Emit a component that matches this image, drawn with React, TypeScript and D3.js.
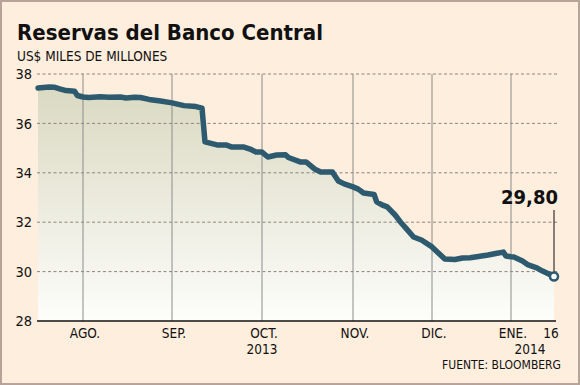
import * as d3 from "d3";

const dates = [
  "2013-07-16", "2013-07-18", "2013-07-20", "2013-07-22", "2013-07-24", "2013-07-26",
  "2013-07-29", "2013-07-30", "2013-08-01", "2013-08-03", "2013-08-07", "2013-08-10",
  "2013-08-14", "2013-08-16", "2013-08-19", "2013-08-21", "2013-08-24", "2013-08-28",
  "2013-09-01", "2013-09-05", "2013-09-09", "2013-09-11", "2013-09-12", "2013-09-16",
  "2013-09-19", "2013-09-21", "2013-09-25", "2013-09-27", "2013-09-29", "2013-10-01",
  "2013-10-03", "2013-10-06", "2013-10-09", "2013-10-10", "2013-10-14", "2013-10-16",
  "2013-10-19", "2013-10-21", "2013-10-25", "2013-10-27", "2013-10-29", "2013-11-01",
  "2013-11-03", "2013-11-05", "2013-11-09", "2013-11-10", "2013-11-12", "2013-11-14",
  "2013-11-17", "2013-11-19", "2013-11-21", "2013-11-24", "2013-11-27", "2013-12-01",
  "2013-12-06", "2013-12-10", "2013-12-13", "2013-12-16", "2013-12-23", "2013-12-26",
  "2013-12-29", "2013-12-30", "2014-01-01", "2014-01-02", "2014-01-05", "2014-01-07",
  "2014-01-10", "2014-01-12", "2014-01-16",
];

const reserves = [
  37.43, 37.45, 37.47, 37.46, 37.39, 37.33,
  37.3, 37.13, 37.07, 37.05, 37.08, 37.06,
  37.07, 37.03, 37.06, 37.05, 36.97, 36.91,
  36.83, 36.72, 36.68, 36.62, 35.25, 35.13,
  35.13, 35.04, 35.04, 34.96, 34.84, 34.84,
  34.64, 34.72, 34.73, 34.62, 34.44, 34.44,
  34.15, 34.03, 34.03, 33.67, 33.55, 33.43,
  33.34, 33.18, 33.12, 32.82, 32.7, 32.62,
  32.29, 32.01, 31.77, 31.4, 31.28, 31.0,
  30.51, 30.49, 30.55, 30.56, 30.67, 30.73,
  30.79, 30.63, 30.6, 30.59, 30.43, 30.27,
  30.15, 30.02, 29.8,
];

const monthStarts = ["2013-08-01", "2013-09-01", "2013-10-01", "2013-11-01", "2013-12-01", "2014-01-01"];
const monthLabels = ["AGO.", "SEP.", "OCT.", "NOV.", "DIC.", "ENE."];
const yTicks = [28, 30, 32, 34, 36, 38];

const parse = d3.timeParse("%Y-%m-%d");
const font = "'DejaVu Sans Condensed', 'DejaVu Sans', sans-serif";

export default function App() {
  const width = 580;
  const height = 385;

  const data = dates.map((d, i) => ({ date: parse(d) as Date, value: reserves[i] }));
  const first = data[0].date;
  const last = data[data.length - 1].date;
  const months = monthStarts.map((d) => parse(d) as Date);

  // months are not evenly spaced in the original, so a polylinear time scale
  const x = d3
    .scaleTime()
    .domain([first, ...months, last])
    .range([38, 83, 172, 262, 353, 432, 511, 554]);

  const y = d3.scaleLinear().domain([28, 38]).range([321, 74]);

  const line = d3
    .line<{ date: Date; value: number }>()
    .x((d) => x(d.date))
    .y((d) => y(d.value));

  const area = d3
    .area<{ date: Date; value: number }>()
    .x((d) => x(d.date))
    .y0(y(28))
    .y1((d) => y(d.value));

  const end = data[data.length - 1];
  const fmt = (v: number) => v.toFixed(2).replace(".", ",");

  return (
    <svg
      width={width}
      height={height}
      style={{ position: "absolute", left: 0, top: 0, display: "block" }}
    >
      <defs>
        <linearGradient id="areaFill" gradientUnits="userSpaceOnUse" x1={0} x2={0} y1={y(38)} y2={y(28)}>
          <stop offset="0%" stopColor="#d8d7be" />
          <stop offset="100%" stopColor="#fdfdfb" />
        </linearGradient>
      </defs>
      <rect x={1} y={1} width={width - 2} height={height - 2} fill="#fdeedd" stroke="#b8a39a" strokeWidth={2} />

      <text x={17} y={40} fontFamily={font} fontWeight="bold" fontSize={22} fill="#111">
        Reservas del Banco Central
      </text>
      <text x={17} y={61} fontFamily={font} fontSize={13.5} fill="#111">
        US$ MILES DE MILLONES
      </text>

      <path d={area(data) ?? ""} fill="url(#areaFill)" />

      {/* horizontal grid + y labels */}
      {yTicks.map((t) => (
        <g key={t}>
          {t !== 28 && (
            <line x1={37} x2={557} y1={y(t)} y2={y(t)} stroke="#8e847c" strokeDasharray="3 2.5" strokeWidth={1} />
          )}
          <text x={32} y={y(t)} dy="0.36em" textAnchor="end" fontFamily={font} fontSize={14.5} fill="#111">
            {t}
          </text>
        </g>
      ))}

      {/* month lines */}
      {months.map((m, i) => (
        <g key={monthLabels[i]}>
          <line x1={x(m)} x2={x(m)} y1={y(38)} y2={y(28)} stroke="#8c8c8c" strokeWidth={1} />
          <text x={x(m) + 2} y={338} textAnchor="middle" fontFamily={font} fontSize={13.5} fill="#111">
            {monthLabels[i]}
          </text>
        </g>
      ))}
      <text x={x(months[2])} y={354} textAnchor="middle" fontFamily={font} fontSize={13.5} fill="#111">
        2013
      </text>
      <text x={x(end.date) - 3} y={338} textAnchor="middle" fontFamily={font} fontSize={13.5} fill="#111">
        {end.date.getDate()}
      </text>
      <text x={530} y={354} textAnchor="middle" fontFamily={font} fontSize={13.5} fill="#111">
        2014
      </text>

      <line x1={37} x2={556} y1={y(28)} y2={y(28)} stroke="#111" strokeWidth={1.5} />

      <path d={line(data) ?? ""} fill="none" stroke="#2d5a6e" strokeWidth={5.5} strokeLinejoin="round" strokeLinecap="round" />

      {/* end annotation */}
      <line x1={x(end.date)} x2={x(end.date)} y1={210} y2={y(end.value) - 4} stroke="#111" strokeWidth={1} />
      <circle cx={x(end.date)} cy={y(end.value)} r={4} fill="#fff" stroke="#2d5a6e" strokeWidth={2.5} />
      <text x={558} y={204} textAnchor="end" fontFamily={font} fontWeight="bold" fontSize={20} fill="#111">
        {fmt(end.value)}
      </text>

      <text x={561} y={369} textAnchor="end" fontFamily={font} fontSize={12} fill="#111">
        FUENTE: BLOOMBERG
      </text>
    </svg>
  );
}
